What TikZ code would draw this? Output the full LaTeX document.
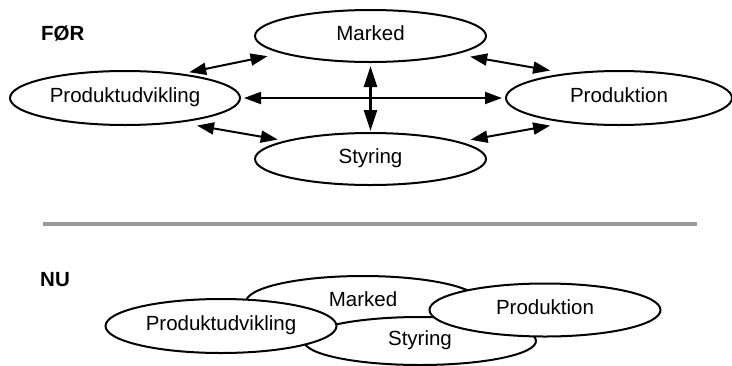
\documentclass[tikz,border=0pt]{standalone}
\usepackage{fontspec}
\setmainfont{Liberation Sans}
\usetikzlibrary{shapes.geometric,arrows.meta}
\definecolor{rulegray}{HTML}{999999}
\begin{document}
\begin{tikzpicture}[x=1pt,y=-1pt,
  blob/.style={ellipse, draw=black, line width=2pt, fill=white, inner sep=0pt,
    minimum width=230pt, minimum height=53pt, text height=15pt, text depth=6pt,
    font=\fontsize{20.5}{24}\selectfont},
  link/.style={line width=2pt,
    {Triangle[length=17pt,width=12pt]}-{Triangle[length=17pt,width=12pt]}},
  uplink/.style={line width=2.5pt,
    {Triangle[length=21pt,width=13pt]}-{Triangle[length=21pt,width=13pt]}},
  heading/.style={anchor=west, inner sep=0pt,
    font=\fontsize{20.5}{24}\selectfont\bfseries}]
\useasboundingbox (0,0) rectangle (732,365);

% --- before: four separate functions linked pairwise ---
\node[heading] (foer) at (41,33) {FØR};
\node[blob, minimum width=231pt, minimum height=52pt] (mk)  at (370.5,36)  {Marked};
\node[blob, minimum width=230pt, minimum height=54pt] (pud) at (125,98)    {Produktudvikling};
\node[blob, minimum width=226pt, minimum height=54pt] (prd) at (619,98)    {Produktion};
\node[blob, minimum width=231pt, minimum height=52pt] (sty) at (370.5,159) {Styring};

\draw[link, shorten <=7pt,  shorten >=14pt] (pud.23)  -- (mk.191);
\draw[link, shorten <=14pt, shorten >=16pt] (mk.348)  -- (prd.155);
\draw[link, shorten <=17pt, shorten >=7pt]  (pud.336) -- (sty.168);
\draw[link, shorten <=11pt, shorten >=16pt] (sty.11)  -- (prd.205);
\draw[link, shorten <=3pt,  shorten >=3pt]  (pud.east) -- (prd.west);
\draw[uplink, shorten <=3pt, shorten >=1pt] (mk.south) -- (sty.north);

% --- separator ---
\draw[rulegray, line width=4pt] (43,224) -- (697,224);

% --- now: overlapping functions ---
\node[heading] (nu) at (40,280) {NU};
\node[blob, minimum width=234pt, minimum height=52pt] (mk2)  at (363,302) {Marked};
\node[blob, minimum width=232pt, minimum height=48pt] (sty2) at (420,341) {Styring};
\node[blob, minimum width=231pt, minimum height=54pt] (pud2) at (221,326) {Produktudvikling};
\node[blob, minimum width=231pt, minimum height=53pt] (prd2) at (545,310) {Produktion};
\end{tikzpicture}
\end{document}
